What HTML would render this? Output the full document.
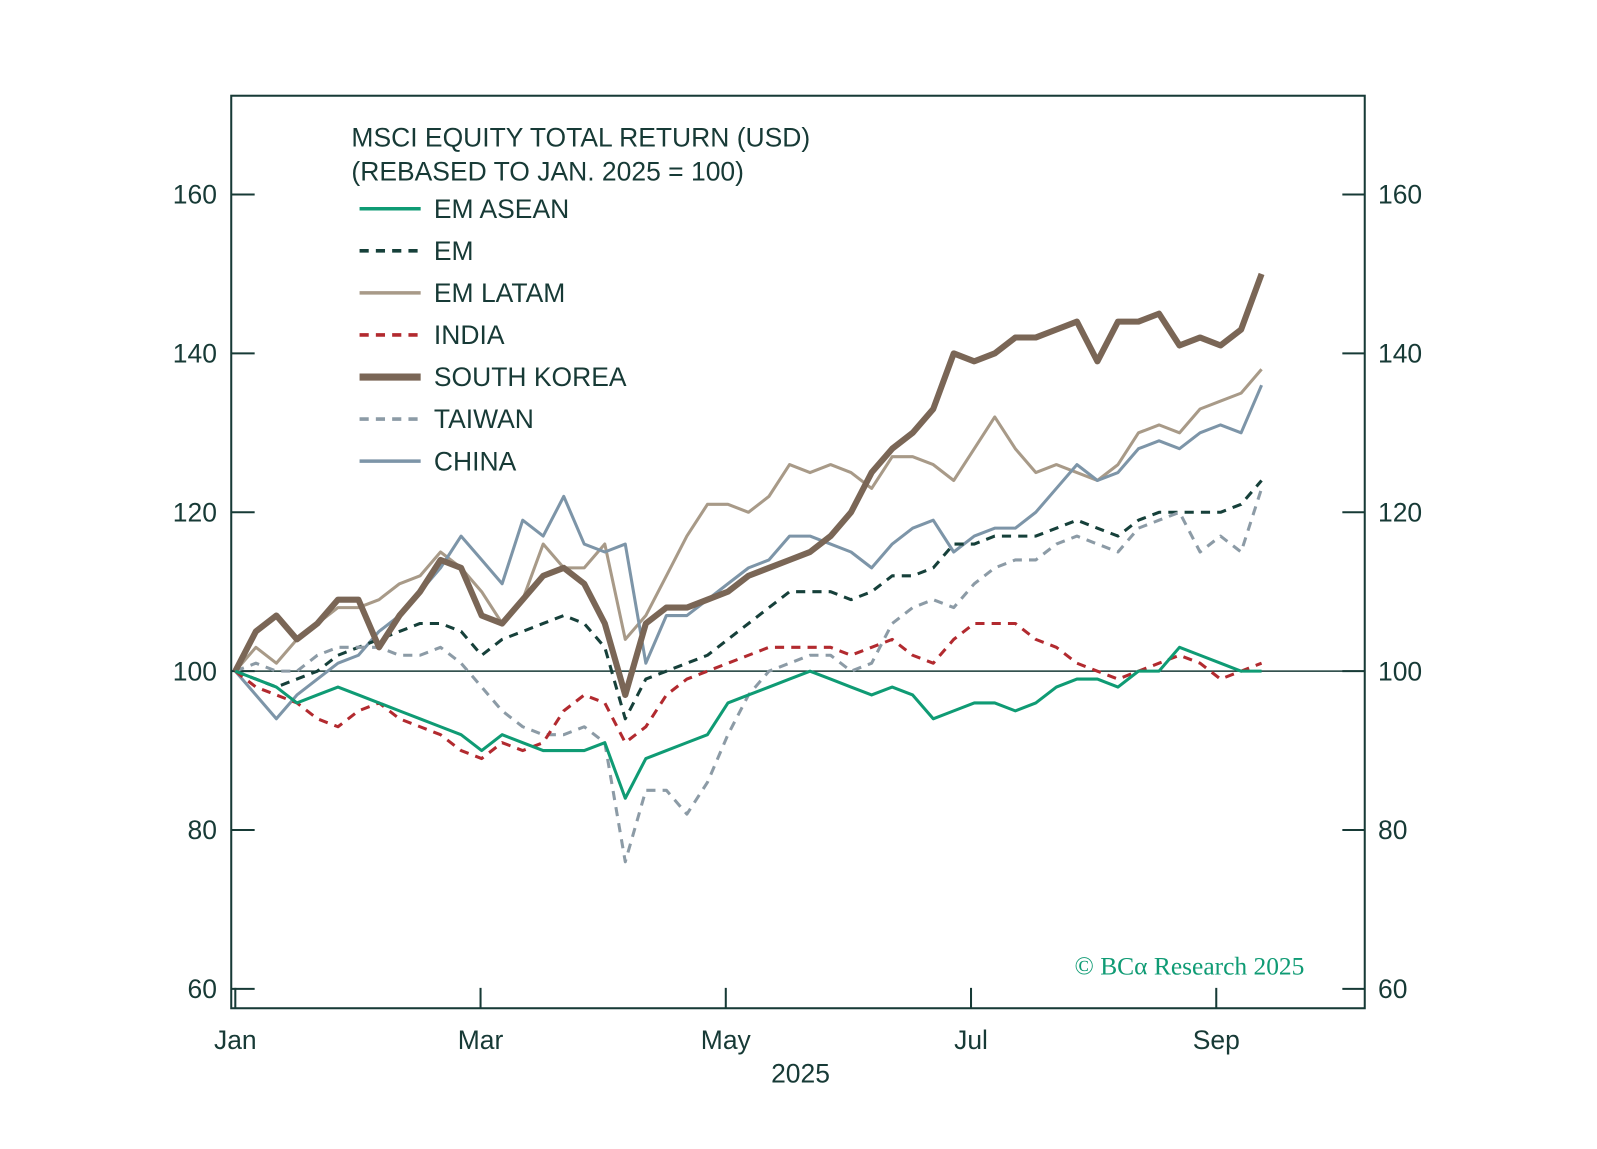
<!DOCTYPE html>
<html><head><meta charset="utf-8"><style>
html,body{margin:0;padding:0;background:#fff;}
svg text{font-family:"Liberation Sans",sans-serif;fill:#173a36;}
</style></head><body>
<svg id="chart" width="1597" height="1144" viewBox="0 0 1568 1123.3">
<rect x="227" y="94" width="1113" height="896" fill="none" stroke="#173a36" stroke-width="2"/>
<g id="axes"></g>
<g id="series"></g>
<g>
<text x="345" y="144" font-size="26">MSCI EQUITY TOTAL RETURN (USD)</text>
<text x="345" y="177" font-size="26">(REBASED TO JAN. 2025 = 100)</text>
</g>
<g id="legend"></g>
<text x="1055" y="957" font-size="25" style="font-family:'Liberation Serif',serif;fill:#0f9b74">© BCα Research 2025</text>
<text x="786" y="1063" font-size="26" text-anchor="middle">2025</text>
</svg>
<script>
const yTicks=[60,80,100,120,140,160];
const monthLabels=["Jan","Mar","May","Jul","Sep"];
const monthPos=[0,2,4,6,8];
const seriesNames=["EM ASEAN","EM","EM LATAM","INDIA","SOUTH KOREA","TAIWAN","CHINA"];
const asean=[100,99,98,96,97,98,97,96,95,94,93,92,90,92,91,90,90,90,91,84,89,90,91,92,96,97,98,99,100,99,98,97,98,97,94,95,96,96,95,96,98,99,99,98,100,100,103,102,101,100,100];
const em=[100,99,98,99,100,102,103,104,105,106,106,105,102,104,105,106,107,106,103,94,99,100,101,102,104,106,108,110,110,110,109,110,112,112,113,116,116,117,117,117,118,119,118,117,119,120,120,120,120,121,124];
const latam=[100,103,101,104,106,108,108,109,111,112,115,113,110,106,109,116,113,113,116,104,107,112,117,121,121,120,122,126,125,126,125,123,127,127,126,124,128,132,128,125,126,125,124,126,130,131,130,133,134,135,138];
const india=[100,98,97,96,94,93,95,96,94,93,92,90,89,91,90,91,95,97,96,91,93,97,99,100,101,102,103,103,103,103,102,103,104,102,101,104,106,106,106,104,103,101,100,99,100,101,102,101,99,100,101];
const korea=[100,105,107,104,106,109,109,103,107,110,114,113,107,106,109,112,113,111,106,97,106,108,108,109,110,112,113,114,115,117,120,125,128,130,133,140,139,140,142,142,143,144,139,144,144,145,141,142,141,143,150];
const taiwan=[100,101,100,100,102,103,103,103,102,102,103,101,98,95,93,92,92,93,91,76,85,85,82,86,92,97,100,101,102,102,100,101,106,108,109,108,111,113,114,114,116,117,116,115,118,119,120,115,117,115,123];
const china=[100,97,94,97,99,101,102,105,107,110,113,117,114,111,119,117,122,116,115,116,101,107,107,109,111,113,114,117,117,116,115,113,116,118,119,115,117,118,118,120,123,126,124,125,128,129,128,130,131,130,136];
const NS="http://www.w3.org/2000/svg";
const yS=v=>659-(v-100)*7.8;
const mS=m=>231+m*120.4;
const END=8.37;
const xI=(i,n)=>mS(i*END/(n-1));
function mk(t,a,p){const e=document.createElementNS(NS,t);for(const k in a)e.setAttribute(k,a[k]);p.appendChild(e);return e;}
const ax=document.getElementById('axes');
yTicks.forEach(v=>{
 const y=yS(v);
 const l=mk('line',{x1:227,x2:250,y1:y,y2:y,stroke:'#173a36','stroke-width':2},ax);
 
 
 const r=mk('line',{x1:1318,x2:1340,y1:y,y2:y,stroke:'#173a36','stroke-width':2},ax);
 
 
 const t=mk('text',{x:213,y:y+9,'font-size':26,'text-anchor':'end'},ax);t.textContent=v;
 
 
 const t2=mk('text',{x:1353,y:y+9,'font-size':26},ax);t2.textContent=v;
 
 
});
const base=mk('line',{x1:227,x2:1340,y1:yS(100),y2:yS(100),stroke:'#173a36','stroke-width':1.5},ax);


monthLabels.forEach((m,i)=>{
 const x=mS(monthPos[i]);
 const l=mk('line',{x1:x,x2:x,y1:970,y2:990,stroke:'#173a36','stroke-width':2},ax);
 
 
 const t=mk('text',{x:x,y:1030,'font-size':26,'text-anchor':'middle'},ax);t.textContent=m;
 
 
});
const styles=[
 {d:asean,c:'#0f9b74',w:3,da:''},
 {d:em,c:'#16403a',w:3,da:'9 7'},
 {d:latam,c:'#a89a88',w:3,da:''},
 {d:india,c:'#b22a2f',w:3,da:'9 7'},
 {d:korea,c:'#7a6656',w:6,da:''},
 {d:taiwan,c:'#8c9ba6',w:3,da:'9 7'},
 {d:china,c:'#7d95a8',w:3,da:''}];
const sg=document.getElementById('series');
const order=[2,6,1,5,3,4,0];
order.forEach(k=>{
 const s=styles[k];
 const pts=s.d.map((v,i)=>xI(i,s.d.length).toFixed(1)+','+yS(v).toFixed(1)).join(' ');
 const p=mk('polyline',{points:pts,fill:'none',stroke:s.c,'stroke-width':s.w,'stroke-dasharray':s.da,'stroke-linejoin':'round'},sg);
 
 
});
const lg=document.getElementById('legend');
seriesNames.forEach((n,i)=>{
 const y=205+i*41.3;
 const s=styles[i];
 const g=mk('g',{},lg);
 
 
 mk('line',{x1:353,x2:413,y1:y,y2:y,stroke:s.c,'stroke-width':s.w==6?7:3.5,'stroke-dasharray':s.da},g);
 const t=mk('text',{x:426,y:y+9,'font-size':26},g);t.textContent=n;
});
</script>
</body></html>
